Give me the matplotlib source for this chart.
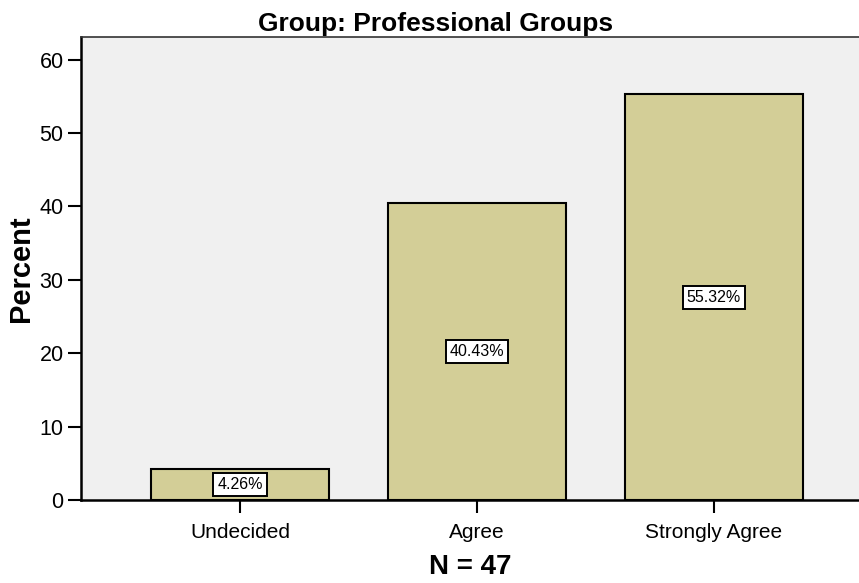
import matplotlib
matplotlib.use("Agg")
import matplotlib.pyplot as plt

categories = ["Undecided", "Agree", "Strongly Agree"]
percents = [4.26, 40.43, 55.32]
y_ticks = [0, 10, 20, 30, 40, 50, 60]
title = "Group: Professional Groups"
x_title = "N = 47"
y_title = "Percent"

plt.rcParams["font.family"] = ["Liberation Sans", "DejaVu Sans"]

fig = plt.figure(figsize=(8.59, 5.83), dpi=100)
ax = fig.add_axes([81 / 859, 83 / 583, (859 - 81) / 859, (500 - 37) / 583])
ax.set_facecolor("#f0f0f0")

x = list(range(len(categories)))
ax.bar(x, percents, width=0.751, color="#d3ce97", edgecolor="black", linewidth=1.5, zorder=2)

for xi, v in zip(x, percents):
    ax.text(xi, v / 2, f"{v:.2f}%", ha="center", va="center", fontsize=11.5, zorder=3,
            bbox=dict(boxstyle="square,pad=0.25", facecolor="white", edgecolor="black", linewidth=1.4))

ax.set_xlim(-0.671, 2.612)
ax.set_ylim(0, 63.1)
ax.set_xticks(x)
ax.set_xticklabels(categories, fontsize=15)
ax.set_yticks(y_ticks)
ax.set_yticklabels([str(t) for t in y_ticks], fontsize=15.5)
ax.tick_params(axis="x", length=9.5, width=1.5, direction="out", pad=7, colors="black")
ax.tick_params(axis="y", length=9.5, width=1.5, direction="out", pad=3, colors="black")

for side in ["left", "bottom"]:
    ax.spines[side].set_linewidth(1.8)
    ax.spines[side].set_color("black")
ax.spines["top"].set_linewidth(1.2)
ax.spines["top"].set_color("#333333")
ax.spines["right"].set_visible(False)

ax.set_xlabel(x_title, fontsize=20, fontweight="bold", labelpad=9)
ax.set_ylabel(y_title, fontsize=21, fontweight="bold", labelpad=3)
fig.text(436 / 859, 1 - 24 / 583, title, ha="center", va="center", fontsize=19, fontweight="bold")

fig.savefig("out.png", dpi=100)
